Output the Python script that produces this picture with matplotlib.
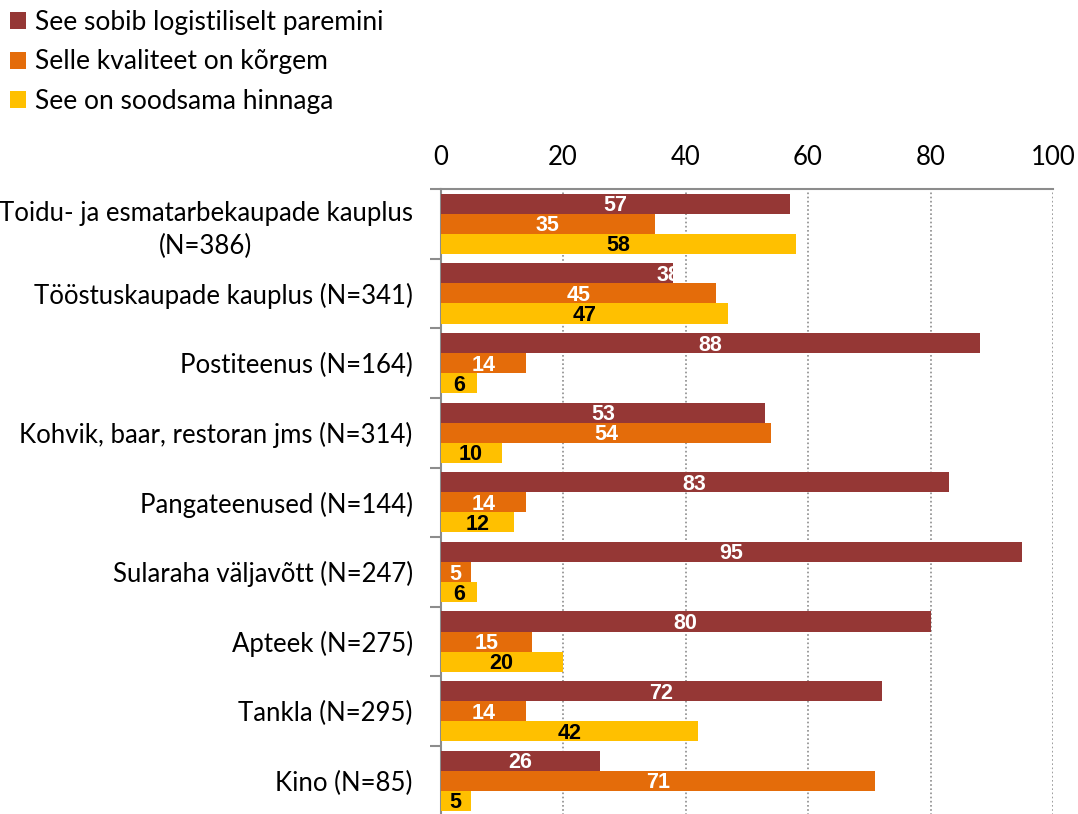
import matplotlib.pyplot as plt
import numpy as np

categories = [
    'Toidu- ja esmatarbekaupade kauplus\n(N=386)',
    'Tööstuskaupade kauplus (N=341)',
    'Postiteenus (N=164)',
    'Kohvik, baar, restoran jms (N=314)',
    'Pangateenused (N=144)',
    'Sularaha väljavõtt (N=247)',
    'Apteek (N=275)',
    'Tankla (N=295)',
    'Kino (N=85)',
]
series_names = ['See sobib logistiliselt paremini', 'Selle kvaliteet on kõrgem', 'See on soodsama hinnaga']
logistika = [57, 38, 88, 53, 83, 95, 80, 72, 26]
kvaliteet = [35, 45, 14, 54, 14, 5, 15, 14, 71]
hind = [58, 47, 6, 10, 12, 6, 20, 42, 5]

colors = ['#953735', '#E46C0A', '#FFC000']
label_colors = ['white', 'white', 'black']

fig = plt.figure(figsize=(10.78, 8.14), dpi=100)
ax = fig.add_axes([440.5 / 1078, -0.002, 612.5 / 1078, 0.7698])

y = np.arange(len(categories))
h = 0.288
series = [logistika, kvaliteet, hind]
for i, (vals, col, lcol) in enumerate(zip(series, colors, label_colors)):
    bars = ax.barh(y + (i - 1) * h, vals, height=h, color=col, edgecolor='none',
                   label=series_names[i], zorder=3)
    for bar, v in zip(bars, vals):
        cy = bar.get_y() + bar.get_height() / 2
        t = ax.text(v / 2, cy + 0.03, str(v), ha='center', va='center', color=lcol,
                    fontsize=15.5, fontweight='bold', family='Liberation Sans', zorder=4)
        # Excel kärbib "38" silti tulba otsas
        if v == 38:
            t.set_x(v - 0.8)
            t.set_clip_path(bar)

ax.set_xlim(0, 100)
ax.set_ylim(len(categories) - 0.5, -0.5)
ax.xaxis.tick_top()
ax.set_xticks(range(0, 101, 20))
ax.tick_params(axis='x', length=0, pad=14, labelsize=18.5)
for lab in ax.get_xticklabels():
    lab.set_family('Lato')

ax.set_yticks(y)
ax.set_yticklabels(categories, fontsize=18.5, family='Lato', multialignment='center',
                   linespacing=1.4)
ax.tick_params(axis='y', which='major', length=0, pad=20)
ax.set_yticks(np.arange(len(categories) + 1) - 0.5, minor=True)
ax.tick_params(axis='y', which='minor', length=8, width=1.5, color='#8c8c8c')

ax.grid(axis='x', linestyle=(0, (1, 1.5)), color='#8c8c8c', linewidth=1.2, zorder=0)
for side in ['right', 'bottom']:
    ax.spines[side].set_visible(False)
for side in ['top', 'left']:
    ax.spines[side].set_color('#8c8c8c')
    ax.spines[side].set_linewidth(1.5)

handles, labels = ax.get_legend_handles_labels()
leg = fig.legend(handles, labels, loc='upper left', bbox_to_anchor=(-0.003, 1.004),
                 frameon=False, prop={'family': 'Lato', 'size': 19},
                 handlelength=0.6, handleheight=0.6, handletextpad=0.35,
                 labelspacing=0.55, borderaxespad=0.1)

fig.savefig('out.png', dpi=100)
